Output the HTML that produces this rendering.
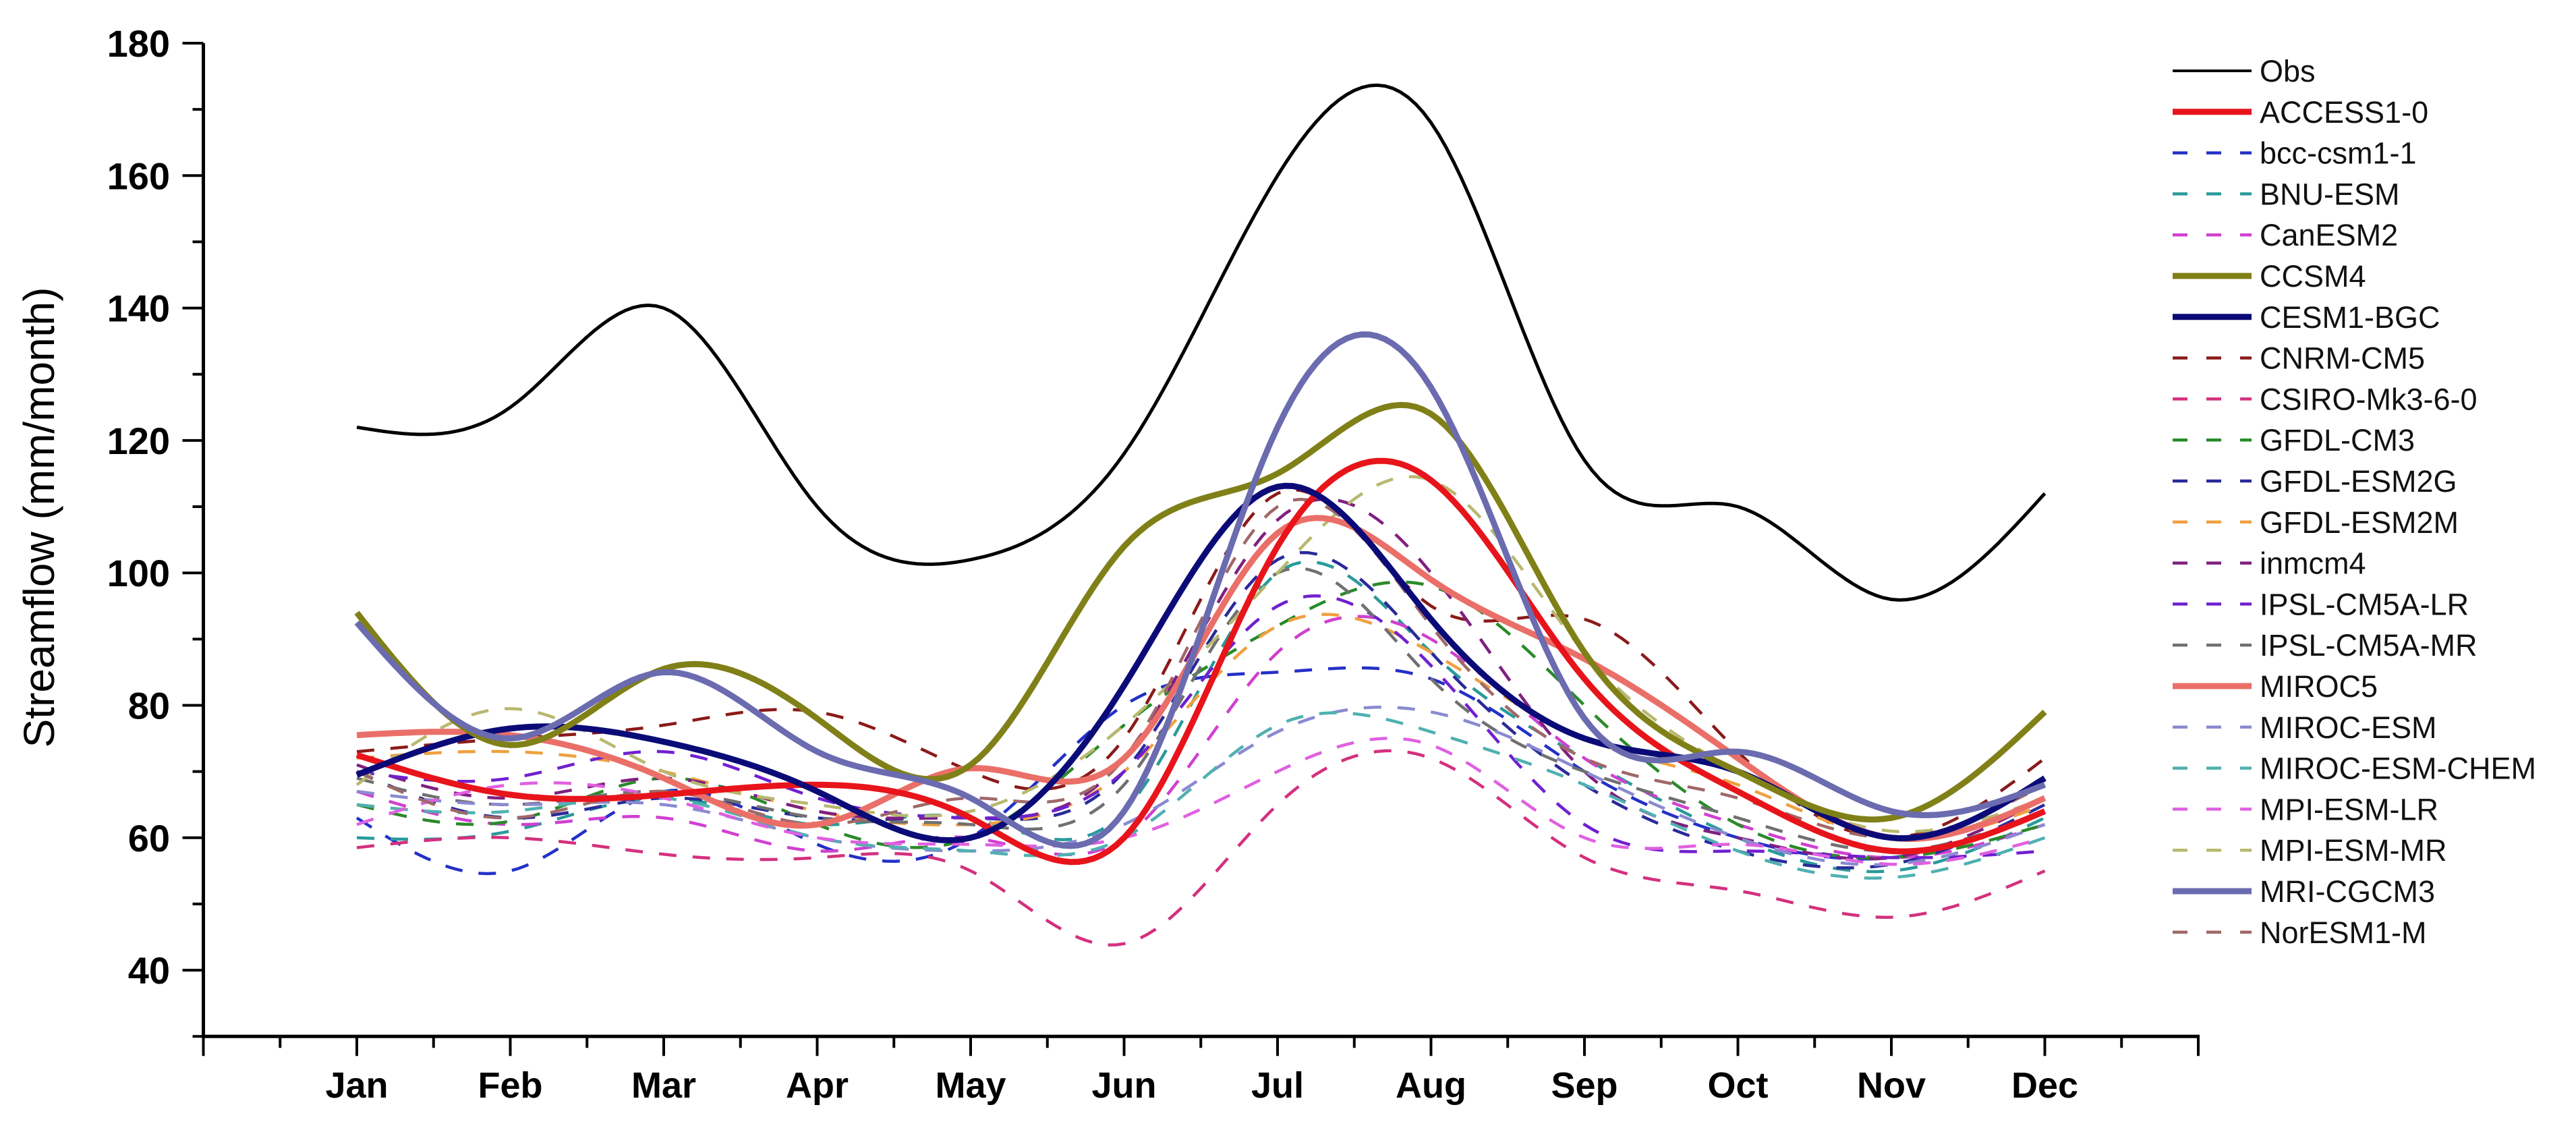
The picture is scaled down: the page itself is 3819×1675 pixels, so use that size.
<!DOCTYPE html>
<html><head><meta charset="utf-8"><style>
html,body{margin:0;padding:0;background:#fff;}
svg text{font-family:"Liberation Sans",Arial,sans-serif;}
</style></head><body>
<svg id="chart" width="3819" height="1670" viewBox="0 0 3819 1670" xmlns="http://www.w3.org/2000/svg">
<g id="axes"></g>
<g id="series"></g>
<g id="legend"></g>
</svg>
<script>
const months = ["Jan","Feb","Mar","Apr","May","Jun","Jul","Aug","Sep","Oct","Nov","Dec"];
const yTicks = [40,60,80,100,120,140,160,180];
const seriesNames = ["Obs","ACCESS1-0","bcc-csm1-1","BNU-ESM","CanESM2","CCSM4","CESM1-BGC","CNRM-CM5","CSIRO-Mk3-6-0","GFDL-CM3","GFDL-ESM2G","GFDL-ESM2M","inmcm4","IPSL-CM5A-LR","IPSL-CM5A-MR","MIROC5","MIROC-ESM","MIROC-ESM-CHEM","MPI-ESM-LR","MPI-ESM-MR","MRI-CGCM3","NorESM1-M"];
const obs        = [122,125,140,110,102,118,160,168,117,110,96,112];
const access10   = [72.5,66.5,66.5,68,63,60,104,114,84,67,58,64];
const bccCsm11   = [63,55,67,59,60,80,85,84,70,60,57,64];
const bnuEsm     = [60,61,66,62,63,64,100,88,72,60,55,63];
const canEsm2    = [67,62,63,58,60,60,88,90,72,62,57,62];
const ccsm4      = [94,74,85.5,78,71,104,115,124,88,70,63,79];
const cesm1Bgc   = [69.5,76.5,74.5,67,60,83,113,93,75,70,60,69];
const cnrmCm5    = [73,75,77,79,70,75,112,95,93,73,60,72];
const csiro      = [58.5,60,57.5,57,55,44,65,72,57,52,48,55];
const gfdlCm3    = [65,62.5,69,62,60,77,92,98,80,62,57,62];
const gfdlEsm2g  = [70,63,66,63,63,70,102,88,68,58,56,65];
const gfdlEsm2m  = [72,73,70,64,62,70,92,88,75,68,60,65];
const inmcm4     = [71,66,69,64,63,72,108,100,70,60,57,66];
const ipslLr     = [70,69,73,66,63,70,95,86,62,58,57,58];
const ipslMr     = [69,65,67,63,62,68,100,84,70,63,58,64];
const miroc5     = [75.5,75.5,69,62,70.5,72,106,99,87,72,60,66];
const mirocEsm   = [67,65,65,60,58,62,76,79,70,60,56,62];
const mirocChem  = [65,64,66,60,58,60,77,76,68,58,54,60];
const mpiLr      = [62,68,66,60,59,60,70,74,60,59,56,60];
const mpiMr      = [68,79.5,70,65,64,77,100,114,88,70,61,66];
const mriCgcm3   = [92.5,75,85,73,66,64,122,128,78,73,64,68];
const norEsm1m   = [70,63,67,62,66,72,110,92,72,66,60,68];
const seriesValues = [obs,access10,bccCsm11,bnuEsm,canEsm2,ccsm4,cesm1Bgc,cnrmCm5,csiro,gfdlCm3,gfdlEsm2g,gfdlEsm2m,inmcm4,ipslLr,ipslMr,miroc5,mirocEsm,mirocChem,mpiLr,mpiMr,mriCgcm3,norEsm1m];

const styles = [
 {c:"#000000",w:5,d:null},{c:"#e8141b",w:9,d:null},{c:"#2330c8",w:4.5,d:"26 24"},{c:"#2a9a9a",w:4.5,d:"26 24"},
 {c:"#d040d0",w:4.5,d:"26 24"},{c:"#808018",w:9,d:null},{c:"#0b0b78",w:9,d:null},{c:"#8b1a1a",w:4.5,d:"26 24"},
 {c:"#d4307e",w:4.5,d:"26 24"},{c:"#2a8a2a",w:4.5,d:"26 24"},{c:"#2a2a9a",w:4.5,d:"26 24"},{c:"#f0a040",w:4.5,d:"26 24"},
 {c:"#802080",w:4.5,d:"26 24"},{c:"#7020d0",w:4.5,d:"26 24"},{c:"#707070",w:4.5,d:"26 24"},{c:"#ea6f68",w:9,d:null},
 {c:"#8a8ad0",w:4.5,d:"26 24"},{c:"#50b0b0",w:4.5,d:"26 24"},{c:"#e060e0",w:4.5,d:"26 24"},{c:"#b8b870",w:4.5,d:"26 24"},
 {c:"#6b6bb0",w:9,d:null},{c:"#a06868",w:4.5,d:"26 24"}];
const drawOrder = [2,3,4,7,8,9,10,11,12,13,14,16,17,18,19,21,15,1,6,5,20,0];

const NS="http://www.w3.org/2000/svg";
const X0=529, DX=227.5, Y180=64, PER=9.815;
const xs = m => X0 + m*DX;
const ys = v => Y180 + (180 - v)*PER;
function mk(tag, attrs, parent){const e=document.createElementNS(NS,tag);for(const k in attrs)e.setAttribute(k,attrs[k]);parent.appendChild(e);return e;}

const axes=document.getElementById('axes');
const axisY = ys(30);
let el = mk('line',{x1:xs(-1)-2,y1:axisY,x2:xs(12)+2,y2:axisY,stroke:'#000','stroke-width':5},axes);


el = mk('line',{x1:xs(-1),y1:ys(180),x2:xs(-1),y2:axisY+2,stroke:'#000','stroke-width':5},axes);


for(let m=-1;m<=12;m+=0.5){
  const major = Number.isInteger(m);
  el = mk('line',{x1:xs(m),y1:axisY,x2:xs(m),y2:axisY+(major?29:17),stroke:'#000','stroke-width':4},axes);
  
  
}
months.forEach((mo,i)=>{
  el = mk('text',{x:xs(i),y:1627,'text-anchor':'middle','font-size':54,'font-weight':'bold',fill:'#000'},axes);
  el.textContent=mo;
  
  
});
for(let v=30;v<=180;v+=10){
  const major = v%20===0;
  el = mk('line',{x1:xs(-1)-(major?31:16),y1:ys(v),x2:xs(-1),y2:ys(v),stroke:'#000','stroke-width':4},axes);
  
  
}
yTicks.forEach(v=>{
  el = mk('text',{x:252,y:ys(v)+20,'text-anchor':'end','font-size':56,'font-weight':'bold',fill:'#000'},axes);
  el.textContent=v;
  
  
});
el = mk('text',{x:0,y:0,'text-anchor':'middle','font-size':64,fill:'#000',transform:'translate(80,767) rotate(-90)'},axes);
el.textContent='Streamflow (mm/month)';



function spline(vals){
  const n=vals.length, a=vals.slice(), c=new Array(n).fill(0);
  const al=new Array(n).fill(0), l=new Array(n).fill(1), mu=new Array(n).fill(0), z=new Array(n).fill(0);
  for(let i=1;i<n-1;i++) al[i]=3*(a[i+1]-2*a[i]+a[i-1]);
  for(let i=1;i<n-1;i++){l[i]=4-mu[i-1];mu[i]=1/l[i];z[i]=(al[i]-z[i-1])/l[i];}
  const b=new Array(n).fill(0), d=new Array(n).fill(0);
  for(let j=n-2;j>=0;j--){c[j]=z[j]-mu[j]*c[j+1];b[j]=(a[j+1]-a[j])-(c[j+1]+2*c[j])/3;d[j]=(c[j+1]-c[j])/3;}
  let p='';
  for(let j=0;j<n-1;j++){
    for(let k=0;k<20;k++){
      const t=k/20, v=a[j]+b[j]*t+c[j]*t*t+d[j]*t*t*t;
      p+=(p?'L':'M')+xs(j+t).toFixed(1)+','+ys(v).toFixed(1);
    }
  }
  p+='L'+xs(n-1).toFixed(1)+','+ys(a[n-1]).toFixed(1);
  return p;
}
const sg=document.getElementById('series');
drawOrder.forEach(i=>{
  const s=styles[i];
  const attrs={d:spline(seriesValues[i]),fill:'none',stroke:s.c,'stroke-width':s.w,'stroke-linejoin':'round'};
  if(s.d) attrs['stroke-dasharray']=s.d;
  const p=mk('path',attrs,sg);
  
  
});
const lg=document.getElementById('legend');
seriesNames.forEach((nm,i)=>{
  const s=styles[i], y=105+i*60.8;
  const g=mk('g',{},lg);
  
  
  const attrs={x1:3221,y1:y,x2:3338,y2:y,stroke:s.c,'stroke-width':s.d?4.5:(i===0?4:9)};
  if(s.d) attrs['stroke-dasharray']='22 28';
  const ln=mk('line',attrs,g);
  
  
  const t=mk('text',{x:3350,y:y+16,'font-size':45,fill:'#111'},g);
  t.textContent=nm;
  
  
});
</script>
</body></html>
